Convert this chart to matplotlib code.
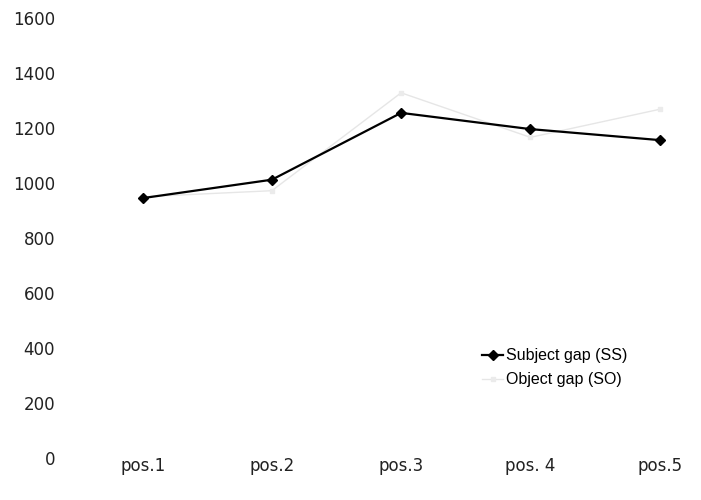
import numpy as np
import matplotlib
matplotlib.use("Agg")
import matplotlib.pyplot as plt

# values
positions = ["pos.1", "pos.2", "pos.3", "pos. 4", "pos.5"]
subject_gap = [945, 1012, 1255, 1196, 1156]
object_gap = [950, 972, 1328, 1166, 1268]
y_ticks = [0, 200, 400, 600, 800, 1000, 1200, 1400, 1600]

plt.rcParams['font.family'] = ['DejaVu Sans']

fig = plt.figure(figsize=(7.01, 5.0), dpi=100)
ax = fig.add_axes([78 / 701, 42 / 500, 623 / 701, 440 / 500])

x = np.arange(len(positions))
ax.plot(x, object_gap, color='#e6e6e6', linewidth=1.0, marker='s', markersize=3,
        markerfacecolor='#ebebeb', markeredgecolor='#ebebeb', label="Object gap (SO)")
ax.plot(x, subject_gap, color='black', linewidth=1.6, marker='D', markersize=5,
        label="Subject gap (SS)")

ax.set_ylim(0, 1600)
ax.set_xlim(-0.5, 4.32)
ax.set_yticks(y_ticks)
ax.set_yticklabels([str(v) for v in y_ticks], fontsize=12, color='#222222')
ax.set_xticks(x)
ax.set_xticklabels(positions, fontsize=12, color='#222222')
ax.tick_params(axis='y', length=0, pad=16.5)
ax.tick_params(axis='x', length=0, pad=-1)
for s in ax.spines.values():
    s.set_visible(False)

# legend: subject first, object second
handles, labels = ax.get_legend_handles_labels()
ax.legend(handles[::-1], labels[::-1], loc='upper left',
          bbox_to_anchor=(476 / 701, 1 - 342 / 500), bbox_transform=fig.transFigure,
          frameon=False, handlelength=1.3, handletextpad=0.2,
          labelspacing=0.55, borderaxespad=0,
          prop={'family': 'Liberation Sans', 'size': 11.5})

fig.savefig("out.png", dpi=100)
